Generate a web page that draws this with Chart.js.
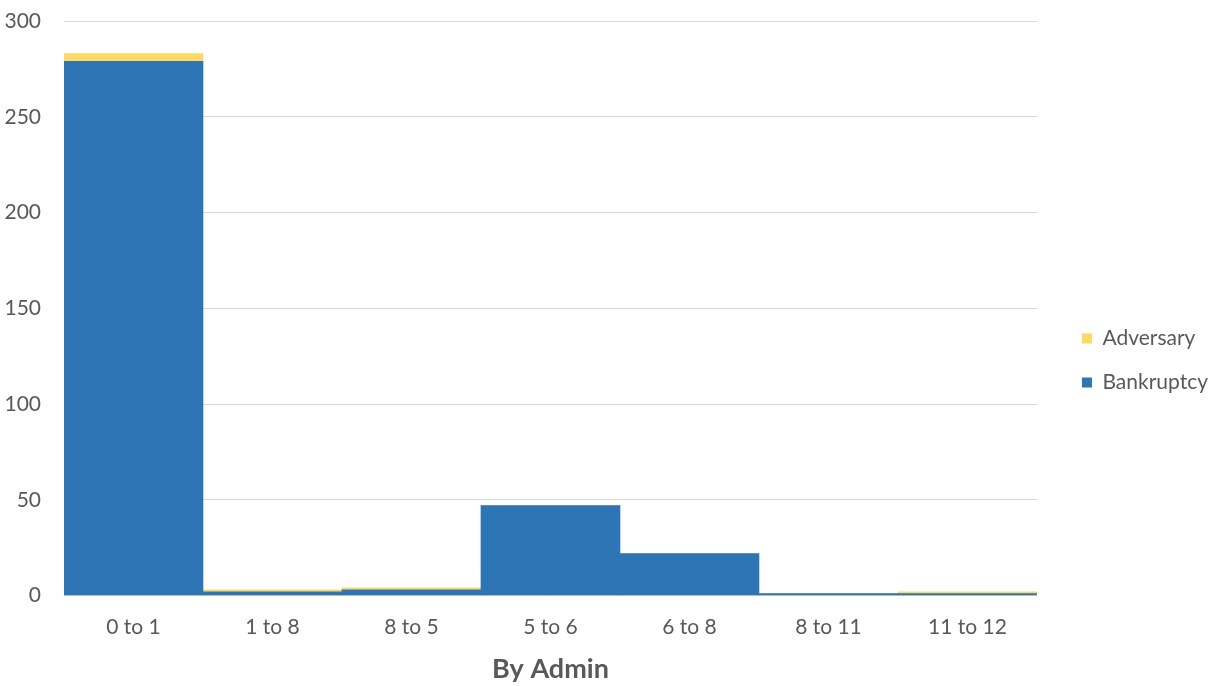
<!DOCTYPE html>
<html>
<head>
<meta charset="utf-8">
<script src="https://cdn.jsdelivr.net/npm/chart.js@4"></script>
<style>
  html, body { margin: 0; padding: 0; background: #fff; }
  #wrap { width: 1219px; height: 686px; }
</style>
</head>
<body>
<div id="wrap"><canvas id="myChart" width="1219" height="686"></canvas></div>
<script>
const labels = ['0 to 1', '1 to 8', '8 to 5', '5 to 6', '6 to 8', '8 to 11', '11 to 12'];
const bankruptcy = [279, 2, 3, 47, 22, 1, 1];
const adversary = [4, 1, 1, 0, 0, 0, 1];
const yTicks = [0, 50, 100, 150, 200, 250, 300];

const fontFamily = 'Lato, "Open Sans", sans-serif';
const textColor = '#595959';

const data = {
    labels: labels,
    datasets: [{
        label: 'Bankruptcy',
        backgroundColor: '#2E75B6',
        data: bankruptcy,
        barPercentage: 1,
        categoryPercentage: 1
    }, {
        label: 'Adversary',
        backgroundColor: '#FFD966',
        data: adversary,
        barPercentage: 1,
        categoryPercentage: 1
    }]
};

const config = {
    type: 'bar',
    data,
    options: {
        responsive: false,
        animation: false,
        layout: { padding: { left: 4, right: 1, top: 21, bottom: 1 } },
        plugins: {
            legend: {
                position: 'right',
                reverse: true,
                // blank title just pushes the items down a little
                title: { display: true, text: ' ', font: { size: 10 }, padding: { top: 3, bottom: 0 } },
                labels: {
                    boxWidth: 10,
                    boxHeight: 10,
                    padding: 23,
                    color: textColor,
                    font: { family: fontFamily, size: 21 }
                }
            },
            title: {
                display: true,
                position: 'bottom',
                fullSize: false,
                text: 'By Admin',
                color: textColor,
                font: { family: fontFamily, size: 27, weight: 'bold' },
                padding: { top: 13, bottom: 0 }
            },
            tooltip: { enabled: false }
        },
        scales: {
            x: {
                stacked: true,
                grid: { display: false, drawTicks: false },
                border: { color: '#d9d9d9', width: 1 },
                ticks: { color: textColor, font: { family: fontFamily, size: 21 }, padding: 19 },
                afterFit: axis => { axis.height = 44; }
            },
            y: {
                stacked: true,
                min: 0,
                max: 300,
                afterBuildTicks: axis => { axis.ticks = yTicks.map(v => ({ value: v })); },
                grid: { color: '#d9d9d9', drawTicks: false },
                border: { display: false },
                ticks: { color: textColor, font: { family: fontFamily, size: 21 }, padding: 23 },
                afterFit: axis => {
                    axis.width = 60;
                    axis.paddingTop = 0;
                }
            },
            // empty axis, only keeps a gap between the plot and the legend
            gap: {
                type: 'linear',
                position: 'right',
                grid: { display: false },
                border: { display: false },
                ticks: { display: false },
                afterFit: axis => { axis.width = 22; }
            }
        }
    }
};

new Chart(document.getElementById('myChart'), config);
</script>
</body>
</html>
